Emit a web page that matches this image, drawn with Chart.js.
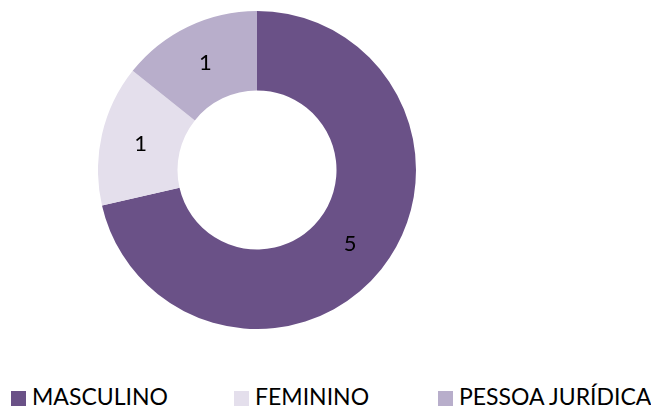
<!DOCTYPE html>
<html>
<head>
<meta charset="utf-8">
<script src="https://cdn.jsdelivr.net/npm/chart.js@4/dist/chart.umd.min.js"></script>
<style>
  html, body { margin: 0; padding: 0; background: #fff; }
  body { width: 651px; height: 407px; position: relative; overflow: hidden; font-family: Lato, "Liberation Sans", Arial, sans-serif; }
  #wrap { position: absolute; left: 98px; top: 11px; width: 318px; height: 318px; }
  .item { position: absolute; top: 383px; font-size: 23px; color: #000; line-height: 26px; white-space: nowrap; }
  .item span { display: inline-block; width: 15px; height: 15px; margin-right: 6px; vertical-align: -1px; }
</style>
</head>
<body>
<div id="wrap"><canvas id="chart"></canvas></div>
<div id="legend"></div>
<script>
const categories = ["MASCULINO", "FEMININO", "PESSOA JURÍDICA"];
const counts = [5, 1, 1];
const colors = ["#6a5187", "#e4dfec", "#b8aecb"];
const legendLeft = [11, 234, 438];

// value labels drawn at the middle of each slice
const sliceLabels = {
  id: "sliceLabels",
  afterDatasetsDraw(chart) {
    const ctx = chart.ctx;
    const meta = chart.getDatasetMeta(0);
    ctx.save();
    ctx.font = "22px Lato, 'Liberation Sans', Arial, sans-serif";
    ctx.fillStyle = "#000";
    ctx.textAlign = "center";
    ctx.textBaseline = "middle";
    meta.data.forEach((arc, i) => {
      const p = arc.tooltipPosition();
      ctx.fillText(String(counts[i]), p.x, p.y);
    });
    ctx.restore();
  }
};

new Chart(document.getElementById("chart").getContext("2d"), {
  type: "doughnut",
  data: {
    labels: categories,
    datasets: [
      {
        data: counts,
        backgroundColor: colors,
        borderWidth: 0,
      },
    ],
  },
  options: {
    responsive: true,
    maintainAspectRatio: false,
    animation: false,
    cutout: "50%",
    layout: { padding: 0 },
    plugins: {
      legend: { display: false },
      tooltip: { enabled: false },
    },
  },
  plugins: [sliceLabels],
});

const legend = document.getElementById("legend");
categories.forEach((name, i) => {
  const div = document.createElement("div");
  div.className = "item";
  div.style.left = legendLeft[i] + "px";
  div.innerHTML = '<span style="background:' + colors[i] + '"></span>' + name;
  legend.appendChild(div);
});
</script>
</body>
</html>
